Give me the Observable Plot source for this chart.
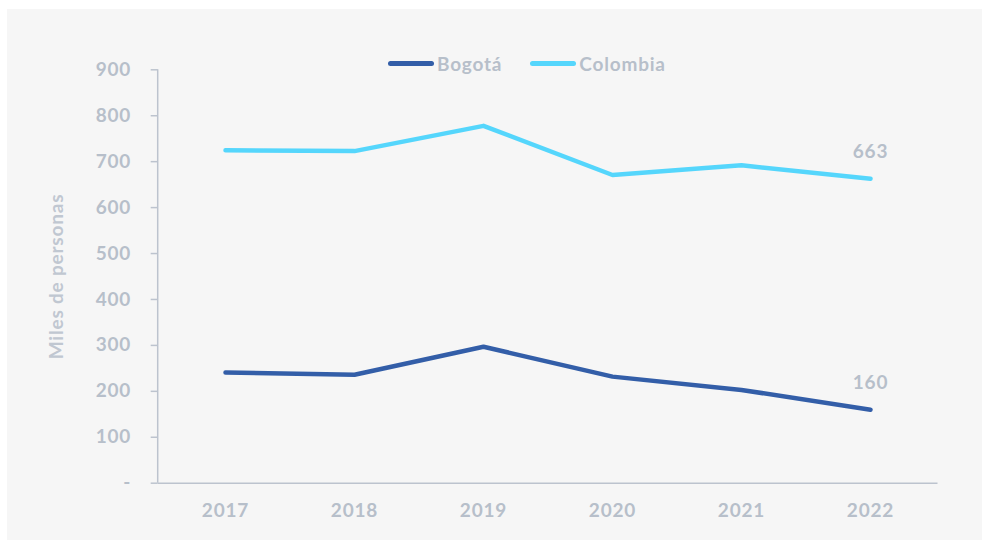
<!DOCTYPE html>
<html>
<head>
<meta charset="utf-8">
<script src="https://cdn.jsdelivr.net/npm/d3@7"></script>
<script src="https://cdn.jsdelivr.net/npm/@observablehq/plot@0.6"></script>
<style>
  html, body { margin: 0; padding: 0; background: #ffffff; }
  #wrap { position: relative; width: 988px; height: 546px; overflow: hidden; font-family: Lato, "Open Sans", sans-serif; }
  #panel { position: absolute; left: 7px; top: 9px; width: 975px; height: 531px; background: #f6f6f6; }
  #chart { position: absolute; left: 0; top: 0; }
  #legend { position: absolute; top: 52px; left: 388px; display: flex; align-items: center; font-weight: 700; font-size: 19px; letter-spacing: 0.8px; color: #b7bfca; white-space: nowrap; }
  .sw { display: inline-block; width: 46px; height: 5px; border-radius: 3px; margin-right: 3px; }
  .item { display: flex; align-items: center; }
  .item + .item { margin-left: 28px; }
</style>
</head>
<body>
<div id="wrap">
  <div id="panel"></div>
  <div id="chart"></div>
  <div id="legend"></div>
</div>
<script>
const years = ["2017", "2018", "2019", "2020", "2021", "2022"];
const bogota = [241, 236, 297, 232, 203, 160];
const colombia = [725, 723, 778, 671, 692, 663];
const seriesNames = ["Bogotá", "Colombia"];
const seriesColors = ["#335ea8", "#55d6fc"];
const yTicks = [0, 100, 200, 300, 400, 500, 600, 700, 800, 900];
const yLabel = "Miles de personas";

const gray = "#b7bfca";
const axisGray = "#bcc3ce";

const data = [];
years.forEach((y, i) => {
  data.push({year: y, value: bogota[i], series: seriesNames[0]});
  data.push({year: y, value: colombia[i], series: seriesNames[1]});
});
const lastPoints = data.filter(d => d.year === years[years.length - 1]);

const chart = Plot.plot({
  width: 988,
  height: 546,
  marginLeft: 157.7,
  marginRight: 50.5,
  marginTop: 69.3,
  marginBottom: 63.3,
  style: {background: "transparent", fontFamily: "Lato, 'Open Sans', sans-serif", fontWeight: 700, fontSize: "19px", color: gray, letterSpacing: "0.8px"},
  x: {type: "point", domain: years, padding: 0.5},
  y: {domain: [0, 900]},
  color: {domain: seriesNames, range: seriesColors},
  marks: [
    Plot.ruleY([0], {stroke: axisGray, strokeWidth: 1.5}),
    Plot.axisY({ticks: yTicks, tickSize: 7, tickPadding: 20, stroke: axisGray, strokeWidth: 1.5, fill: gray, tickFormat: d => d === 0 ? "-" : d, label: null, fontSize: 19}),
    Plot.axisX({tickSize: 0, tickPadding: 20, fill: gray, label: null, fontSize: 19}),
    Plot.text([yLabel], {frameAnchor: "left", dx: -101, rotate: -90, fill: "#c0c7d1", fontSize: 19, fontWeight: 700, textAnchor: "middle"}),
    Plot.line(data, {x: "year", y: "value", z: "series", stroke: "series", strokeWidth: 4.5, strokeLinecap: "round", strokeLinejoin: "round"}),
    Plot.text(lastPoints, {x: "year", y: "value", text: d => String(d.value), dy: -27, fill: gray, fontSize: 19, fontWeight: 700})
  ]
});

// Vertical axis line along the left edge of the frame, from the plot's own scales
const xr = chart.scale("x").range;
const yr = chart.scale("y").range;
d3.select(chart).append("line")
  .attr("x1", xr[0]).attr("x2", xr[0])
  .attr("y1", yr[0]).attr("y2", yr[1])
  .attr("stroke", axisGray).attr("stroke-width", 1.5);

document.getElementById("chart").appendChild(chart);

const legend = document.getElementById("legend");
seriesNames.forEach((name, i) => {
  const item = document.createElement("div");
  item.className = "item";
  const sw = document.createElement("span");
  sw.className = "sw";
  sw.style.background = seriesColors[i];
  item.appendChild(sw);
  const t = document.createElement("span");
  t.textContent = name;
  item.appendChild(t);
  legend.appendChild(item);
});
</script>
</body>
</html>
